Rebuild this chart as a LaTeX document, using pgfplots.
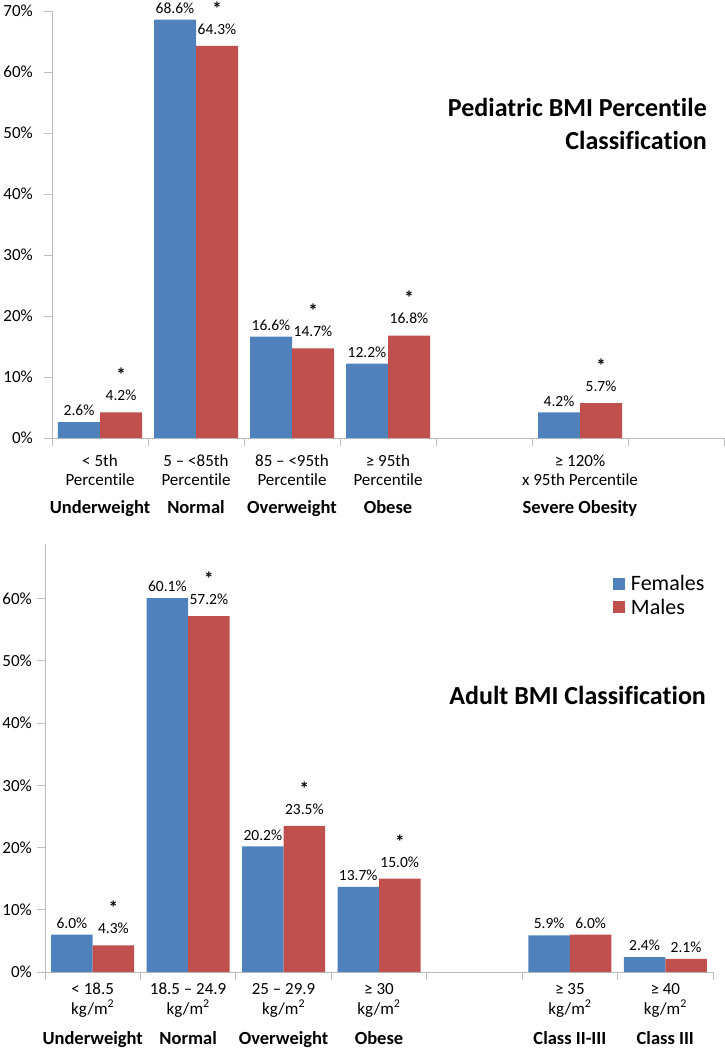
\documentclass[border=0pt]{standalone}
\usepackage{pgfplots}
\pgfplotsset{compat=1.18}
\usepackage{pgfplotstable}
\usepackage{fontspec}
\setmainfont{Carlito}[Ligatures=NoCommon]
\definecolor{fem}{HTML}{4F81BD}
\definecolor{mal}{HTML}{C0504D}
\definecolor{axgray}{HTML}{BDBDBD}

\pgfplotstableread{
x y s
0 2.6 N
1 68.6 N
2 16.6 N
3 12.2 N
5 4.2 N
}\pedF
\pgfplotstableread{
x y s
0 4.2 S
1 64.3 S
2 14.7 S
3 16.8 S
5 5.7 S
}\pedM
\pgfplotstableread{
x y s
0 6.0 N
1 60.1 N
2 20.2 N
3 13.7 N
5 5.9 N
6 2.4 N
}\adF
\pgfplotstableread{
x y s
0 4.3 S
1 57.2 S
2 23.5 S
3 15.0 S
5 6.0 N
6 2.1 N
}\adM

\newcommand\pnum[1]{\pgfmathprintnumber[fixed,fixed zerofill,precision=1,assume math mode=true]{#1}\%}
\newcommand\vlab[2]{\if S#1\begin{tabular}{@{}c@{}}{\fontsize{19bp}{19bp}\selectfont\bfseries *}\\[1bp]\pnum{#2}\end{tabular}\else\pnum{#2}\fi}

\tikzset{
  catA/.style={font=\fontsize{17bp}{20bp}\selectfont, anchor=base, inner sep=0pt},
  catB/.style={font=\fontsize{18.5bp}{22bp}\selectfont\bfseries, anchor=base, inner sep=0pt},
  ttl/.style={anchor=base east, inner sep=0pt, font=\fontsize{26bp}{30bp}\selectfont\bfseries},
}
\pgfplotsset{
  bmi/.style={
    scale only axis, ybar=0pt, xmin=-0.5, xmax=6.5, ymin=0,
    axis x line=bottom, axis y line=left,
    axis line style={draw=axgray, line width=1bp, -},
    tick align=outside, major tick length=8bp,
    tick style={draw=axgray, line width=1bp},
    xtick={-0.5,0.5,1.5,2.5,3.5,4.5,5.5,6.5}, xticklabels={,,,,,,,,},
    ytick={0,10,20,30,40,50,60,70},
    yticklabels={0\%,10\%,20\%,30\%,40\%,50\%,60\%,70\%},
    yticklabel style={font=\fontsize{17bp}{20bp}\selectfont, anchor=east, inner sep=0pt},
    clip=false,
    point meta=explicit symbolic,
    visualization depends on={rawy \as \rawy},
    nodes near coords={\vlab{\pgfplotspointmeta}{\rawy}},
    every node near coord/.append style={font=\fontsize{15.5bp}{18bp}\selectfont, anchor=south, inner sep=0pt, yshift=6bp, text=black},
  },
}

\begin{document}
\begin{tikzpicture}
\path[use as bounding box] (0bp,0bp) rectangle (725bp,-1050bp);

% ---------------- Pediatric panel ----------------
\begin{axis}[bmi, at={(52bp,-438bp)}, anchor=south west,
  width=672bp, height=427bp, ymax=70, bar width=42bp,
  yticklabel style={xshift=-11bp}]
\addplot[fill=fem, draw=none] table[x=x, y=y, meta=s]{\pedF};
\addplot[fill=mal, draw=none] table[x=x, y=y, meta=s]{\pedM};
\node[catA, yshift=-28.5bp] at (axis cs:0,0) {< 5th};
\node[catA, yshift=-47bp] at (axis cs:0,0) {Percentile};
\node[catB, yshift=-75bp] at (axis cs:0,0) {Underweight};
\node[catA, yshift=-28.5bp] at (axis cs:1,0) {5 – <85th};
\node[catA, yshift=-47bp] at (axis cs:1,0) {Percentile};
\node[catB, yshift=-75bp] at (axis cs:1,0) {Normal};
\node[catA, yshift=-28.5bp] at (axis cs:2,0) {85 – <95th};
\node[catA, yshift=-47bp] at (axis cs:2,0) {Percentile};
\node[catB, yshift=-75bp] at (axis cs:2,0) {Overweight};
\node[catA, yshift=-28.5bp] at (axis cs:3,0) {≥ 95th};
\node[catA, yshift=-47bp] at (axis cs:3,0) {Percentile};
\node[catB, yshift=-75bp] at (axis cs:3,0) {Obese};
\node[catA, yshift=-28.5bp] at (axis cs:5,0) {≥ 120\%};
\node[catA, yshift=-47bp] at (axis cs:5,0) {x 95th Percentile};
\node[catB, yshift=-75bp] at (axis cs:5,0) {Severe Obesity};
\end{axis}

\node[ttl] at (707bp,-116bp) {Pediatric BMI Percentile};
\node[ttl] at (707bp,-149bp) {Classification};

% ---------------- Adult panel ----------------
\begin{axis}[bmi, at={(45bp,-972bp)}, anchor=south west,
  width=668bp, height=428bp, ymax=68.8, bar width=41.5bp,
  yticklabel style={xshift=-5bp},
  legend style={draw=none, fill=none, at={(0.850,0.932)}, anchor=north west,
    font=\fontsize{22bp}{24bp}\selectfont, row sep=3bp, inner sep=0pt,
    cells={anchor=west},
    /tikz/every odd column/.append style={column sep=4bp}},
  legend image code/.code={\fill[#1] (0bp,-6bp) rectangle (12bp,6bp);}]
\addplot[fill=fem, draw=none] table[x=x, y=y, meta=s]{\adF};
\addplot[fill=mal, draw=none] table[x=x, y=y, meta=s]{\adM};
\legend{Females, Males}
\node[catA, yshift=-22.5bp] at (axis cs:0,0) {< 18.5};
\node[catA, yshift=-42bp] at (axis cs:0,0) {kg/m\textsuperscript{2}};
\node[catB, yshift=-72bp] at (axis cs:0,0) {Underweight};
\node[catA, yshift=-22.5bp] at (axis cs:1,0) {18.5 – 24.9};
\node[catA, yshift=-42bp] at (axis cs:1,0) {kg/m\textsuperscript{2}};
\node[catB, yshift=-72bp] at (axis cs:1,0) {Normal};
\node[catA, yshift=-22.5bp] at (axis cs:2,0) {25 – 29.9};
\node[catA, yshift=-42bp] at (axis cs:2,0) {kg/m\textsuperscript{2}};
\node[catB, yshift=-72bp] at (axis cs:2,0) {Overweight};
\node[catA, yshift=-22.5bp] at (axis cs:3,0) {≥ 30};
\node[catA, yshift=-42bp] at (axis cs:3,0) {kg/m\textsuperscript{2}};
\node[catB, yshift=-72bp] at (axis cs:3,0) {Obese};
\node[catA, yshift=-22.5bp] at (axis cs:5,0) {≥ 35};
\node[catA, yshift=-42bp] at (axis cs:5,0) {kg/m\textsuperscript{2}};
\node[catB, yshift=-72bp] at (axis cs:5,0) {Class II-III};
\node[catA, yshift=-22.5bp] at (axis cs:6,0) {≥ 40};
\node[catA, yshift=-42bp] at (axis cs:6,0) {kg/m\textsuperscript{2}};
\node[catB, yshift=-72bp] at (axis cs:6,0) {Class III};
\end{axis}

\node[ttl] at (706bp,-704bp) {Adult BMI Classification};
\end{tikzpicture}
\end{document}
